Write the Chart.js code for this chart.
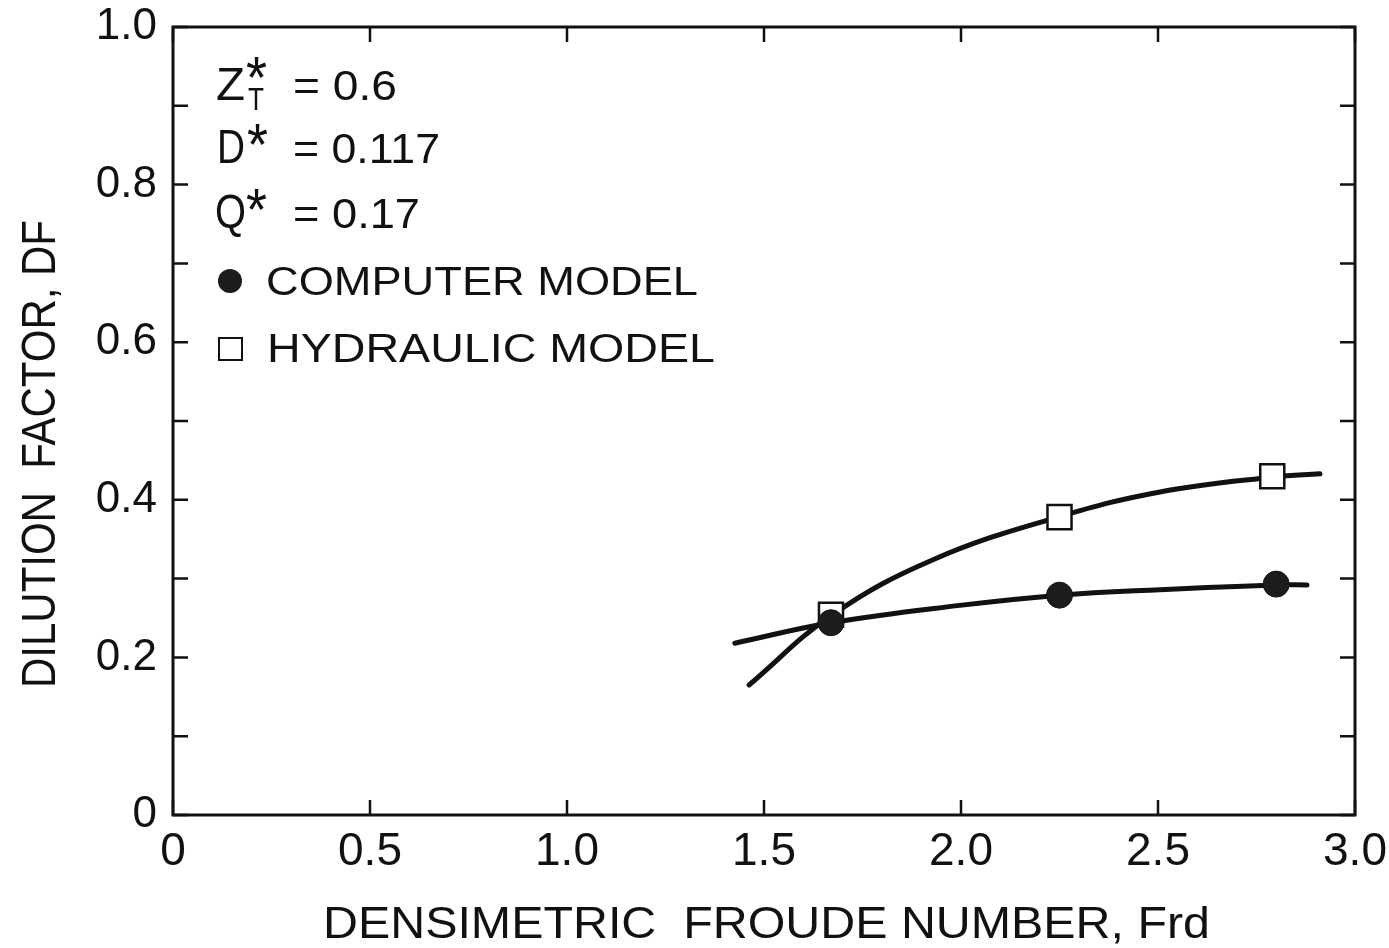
<!DOCTYPE html>
<html>
<head>
<meta charset="utf-8">
<script src="https://cdn.jsdelivr.net/npm/chart.js@4/dist/chart.umd.min.js"></script>
<style>
  html, body { margin: 0; padding: 0; background: #fff; }
  #wrap { width: 1389px; height: 948px; position: relative; }
</style>
</head>
<body>
<div id="wrap"><canvas id="chart"></canvas></div>
<script>
'use strict';
/* global Chart */

// ─── Data ─────────────────────────────────────────────────────────────────────
const xTickLabels = ['0', '0.5', '1.0', '1.5', '2.0', '2.5', '3.0'];
const yTickLabels = ['0', '', '0.2', '', '0.4', '', '0.6', '', '0.8', '', '1.0'];

// measured points
const computerX  = [1.67, 2.25, 2.80];
const computerY  = [0.244, 0.279, 0.293];
const hydraulicX = [1.67, 2.25, 2.79];
const hydraulicY = [0.254, 0.378, 0.430];

// hand-drawn fitted curves
const computerCurveX  = [1.426, 1.670, 1.997, 2.251, 2.505, 2.799, 2.878];
const computerCurveY  = [0.218, 0.244, 0.266, 0.279, 0.286, 0.292, 0.292];
const hydraulicCurveX = [1.462, 1.673, 1.929, 2.246, 2.505, 2.794, 2.911];
const hydraulicCurveY = [0.165, 0.254, 0.324, 0.378, 0.410, 0.429, 0.433];

const zip = (xs, ys) => xs.map((x, i) => ({ x, y: ys[i] }));

const INK  = '#111';
const FONT = '"Liberation Sans", Arial, sans-serif';

// ─── Helpers ──────────────────────────────────────────────────────────────────
/** Draw text squeezed/stretched to a target width. */
function fitText(ctx, str, x, y, size, width) {
  ctx.save();
  ctx.font = `${size}px ${FONT}`;
  ctx.textBaseline = 'alphabetic';
  ctx.textAlign = 'left';
  const w = ctx.measureText(str).width;
  ctx.translate(x, y);
  ctx.scale(width / w, 1);
  ctx.fillText(str, 0, 0);
  ctx.restore();
}

// ─── Plugins ──────────────────────────────────────────────────────────────────
const framePlugin = {
  id: 'frame',
  afterDatasetsDraw(chart) {
    const { ctx, chartArea: a, scales } = chart;
    ctx.save();
    ctx.strokeStyle = INK;
    ctx.lineWidth = 2.5;
    const len = 15;
    ctx.beginPath();
    scales.y.ticks.forEach((t) => {
      const py = scales.y.getPixelForValue(t.value);
      ctx.moveTo(a.left, py);  ctx.lineTo(a.left + len, py);
      ctx.moveTo(a.right, py); ctx.lineTo(a.right - len, py);
    });
    scales.x.ticks.forEach((t) => {
      const px = scales.x.getPixelForValue(t.value);
      ctx.moveTo(px, a.bottom); ctx.lineTo(px, a.bottom - len);
      ctx.moveTo(px, a.top);    ctx.lineTo(px, a.top + len);
    });
    ctx.stroke();
    ctx.lineWidth = 3;
    ctx.strokeRect(a.left, a.top, a.right - a.left, a.bottom - a.top);
    ctx.restore();
  },
};

const notesPlugin = {
  id: 'notes',
  afterDraw(chart) {
    const { ctx } = chart;
    ctx.save();
    ctx.fillStyle = INK;

    // Z*_T = 0.6
    fitText(ctx, 'Z', 216, 100, 46, 29);
    fitText(ctx, '*', 246, 98, 60, 21);
    fitText(ctx, 'T', 248, 110, 31, 16);
    fitText(ctx, '= 0.6', 293, 100, 42, 104);
    // D* = 0.117
    fitText(ctx, 'D', 217, 163, 48, 28);
    fitText(ctx, '*', 247, 165, 60, 21);
    fitText(ctx, '= 0.117', 293, 163, 42, 147);
    // Q* = 0.17
    fitText(ctx, 'Q', 215, 228, 48, 31);
    fitText(ctx, '*', 246, 230, 60, 21);
    fitText(ctx, '= 0.17', 293, 228, 42, 127);

    // legend
    ctx.beginPath();
    ctx.arc(230, 281, 12, 0, Math.PI * 2);
    ctx.fillStyle = '#1c1c1c';
    ctx.fill();
    ctx.fillStyle = INK;
    fitText(ctx, 'COMPUTER MODEL', 266, 295, 40, 432);

    ctx.lineWidth = 2;
    ctx.strokeStyle = INK;
    ctx.strokeRect(219, 338, 23, 22);
    fitText(ctx, 'HYDRAULIC MODEL', 267, 362, 40, 448);

    // axis titles
    fitText(ctx, 'DENSIMETRIC  FROUDE NUMBER, Frd', 323, 938, 44, 887);
    ctx.save();
    ctx.translate(55, 688);
    ctx.rotate(-Math.PI / 2);
    fitText(ctx, 'DILUTION  FACTOR, DF', 0, 0, 48, 468);
    ctx.restore();

    ctx.restore();
  },
};

// ─── Chart ────────────────────────────────────────────────────────────────────
const curveStyle = {
  type: 'line',
  borderColor: INK,
  borderWidth: 5,
  borderCapStyle: 'round',
  pointRadius: 0,
  fill: false,
  tension: 0.4,
  order: 2,
};

new Chart(document.getElementById('chart'), {
  type: 'scatter',
  data: {
    datasets: [
      { ...curveStyle, label: 'computer curve',  data: zip(computerCurveX, computerCurveY) },
      { ...curveStyle, label: 'hydraulic curve', data: zip(hydraulicCurveX, hydraulicCurveY) },
      {
        label: 'COMPUTER MODEL', data: zip(computerX, computerY),
        pointStyle: 'circle', pointRadius: 13,
        backgroundColor: '#1c1c1c', borderColor: INK, borderWidth: 1, order: 0,
      },
      {
        label: 'HYDRAULIC MODEL', data: zip(hydraulicX, hydraulicY),
        pointStyle: 'rect', pointRadius: 17,
        backgroundColor: '#fff', borderColor: INK, borderWidth: 2.5, order: 1,
      },
    ],
  },
  options: {
    responsive: true,
    maintainAspectRatio: false,
    animation: false,
    layout: { padding: { top: 27, right: 34, left: 0, bottom: 0 } },
    plugins: { legend: { display: false }, tooltip: { enabled: false } },
    scales: {
      x: {
        type: 'linear', min: 0, max: 3,
        grid: { display: false }, border: { display: false },
        afterFit: (s) => { s.height = 948 - 815; s.paddingLeft = 0; s.paddingRight = 0; },
        ticks: {
          stepSize: 0.5, padding: 6, color: INK,
          font: { family: FONT, size: 46, lineHeight: 1 },
          callback: (v, i) => xTickLabels[i],
        },
      },
      y: {
        type: 'linear', min: 0, max: 1,
        grid: { display: false }, border: { display: false },
        afterFit: (s) => { s.width = 173; s.paddingTop = 0; s.paddingBottom = 0; },
        ticks: {
          stepSize: 0.1, padding: 8, color: INK,
          font: { family: FONT, size: 44, lineHeight: 1 },
          callback: (v, i) => yTickLabels[i],
        },
      },
    },
  },
  plugins: [framePlugin, notesPlugin],
});
</script>
</body>
</html>
